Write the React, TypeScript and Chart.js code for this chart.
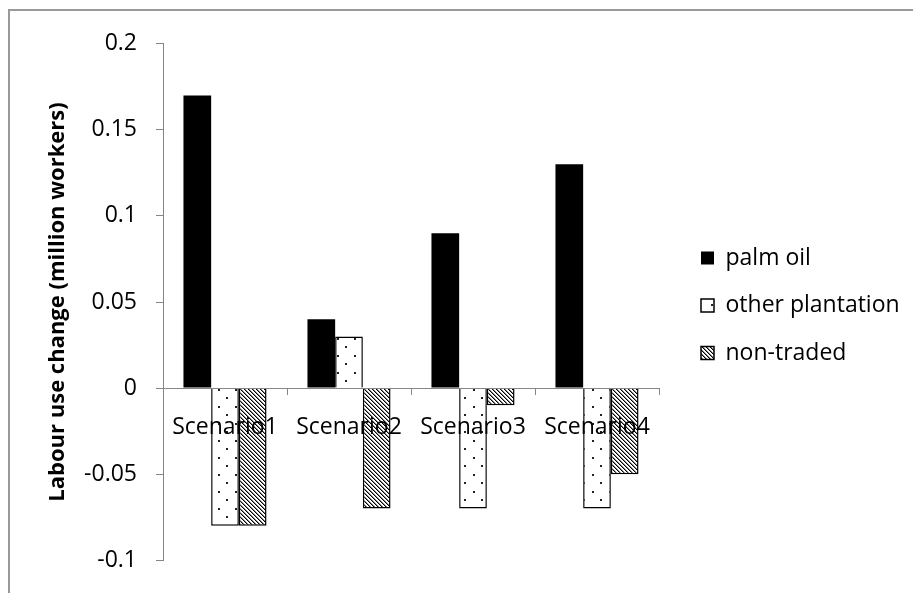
import React, { useEffect, useRef } from 'react';
import { Chart, registerables } from 'chart.js';

Chart.register(...registerables);

const categories = ['Scenario1', 'Scenario2', 'Scenario3', 'Scenario4'];
const seriesNames = ['palm oil', 'other plantation', 'non-traded'];
const palmOil = [0.17, 0.04, 0.09, 0.13];
const otherPlantation = [-0.08, 0.03, -0.07, -0.07];
const nonTraded = [-0.08, -0.07, -0.01, -0.05];
const yTickValues = [-0.1, -0.05, 0, 0.05, 0.1, 0.15, 0.2];
const yTickLabels = ['-0.1', '-0.05', '0', '0.05', '0.1', '0.15', '0.2'];
const yTitle = 'Labour use change (million workers)';

const FONT = "'Open Sans', 'DejaVu Sans', sans-serif";
const AXIS = '#868686';
const LEGEND_W = 236.5;

function makeDots(ctx: CanvasRenderingContext2D) {
  const c = document.createElement('canvas');
  c.width = 17;
  c.height = 17;
  const g = c.getContext('2d')!;
  g.fillStyle = '#ffffff';
  g.fillRect(0, 0, 17, 17);
  g.fillStyle = '#222222';
  g.fillRect(4, 4, 2, 2);
  g.fillRect(12, 12, 2, 2);
  return ctx.createPattern(c, 'repeat');
}

function makeHatch(ctx: CanvasRenderingContext2D) {
  const c = document.createElement('canvas');
  c.width = 4;
  c.height = 4;
  const g = c.getContext('2d')!;
  g.fillStyle = '#ffffff';
  g.fillRect(0, 0, 4, 4);
  for (let i = 0; i < 4; i++) {
    g.fillStyle = '#000000';
    g.fillRect(i, i, 1, 1);
    g.fillStyle = '#888888';
    g.fillRect((i + 1) % 4, i, 1, 1);
  }
  return ctx.createPattern(c, 'repeat');
}

const legendWidthPlugin = {
  id: 'legendWidth',
  beforeLayout(chart: any) {
    const lg: any = chart.legend;
    if (lg && !lg.__fixed) {
      const orig = lg.fit.bind(lg);
      lg.fit = function () {
        orig();
        lg.width = LEGEND_W;
      };
      lg.__fixed = true;
    }
  },
};

export default function App() {
  const ref = useRef<HTMLCanvasElement | null>(null);

  useEffect(() => {
    const canvas = ref.current!;
    const ctx = canvas.getContext('2d')!;
    const dots = makeDots(ctx);
    const hatch = makeHatch(ctx);
    Chart.defaults.font.family = FONT;

    const chart = new Chart(canvas, {
      type: 'bar',
      data: {
        labels: categories,
        datasets: [
          {
            label: seriesNames[0],
            data: palmOil,
            backgroundColor: '#000000',
            borderColor: '#000000',
            borderWidth: 0,
            categoryPercentage: 0.67,
            barPercentage: 1,
          },
          {
            label: seriesNames[1],
            data: otherPlantation,
            backgroundColor: dots as any,
            borderColor: '#000000',
            borderWidth: 1.5,
            categoryPercentage: 0.67,
            barPercentage: 1,
          },
          {
            label: seriesNames[2],
            data: nonTraded,
            backgroundColor: hatch as any,
            borderColor: '#000000',
            borderWidth: 1.5,
            categoryPercentage: 0.67,
            barPercentage: 1,
          },
        ],
      },
      plugins: [legendWidthPlugin as any],
      options: {
        animation: false,
        responsive: false,
        layout: { padding: { top: 29, bottom: 22, left: 0, right: 0 } },
        plugins: {
          legend: {
            position: 'right',
            align: 'center',
            labels: {
              boxWidth: 13,
              boxHeight: 13,
              padding: 24.5,
              color: '#000000',
              font: { size: 23, family: FONT },
            },
          },
          tooltip: { enabled: false },
        },
        scales: {
          x: {
            type: 'category',
            position: { y: 0 } as any,
            offset: true,
            grid: {
              display: true,
              offset: true,
              drawOnChartArea: false,
              drawTicks: true,
              tickLength: 6,
              color: AXIS,
              z: 1,
            },
            border: { display: true, color: AXIS, width: 1, z: 1 } as any,
            ticks: {
              color: '#000000',
              font: { size: 23, family: FONT },
              padding: 20,
              maxRotation: 0,
              autoSkip: false,
              z: 1,
            },
            afterFit: (s: any) => {
              s.height = 0;
            },
          },
          y: {
            type: 'linear',
            position: 'left',
            min: -0.1,
            max: 0.2,
            afterBuildTicks: (s: any) => {
              s.ticks = yTickValues.map((v) => ({ value: v }));
            },
            ticks: {
              callback: (v: any) => {
                const i = yTickValues.indexOf(Number(v));
                return i >= 0 ? yTickLabels[i] : '';
              },
              padding: 19,
              color: '#000000',
              font: { size: 23, family: FONT },
            },
            grid: {
              display: true,
              drawOnChartArea: false,
              drawTicks: true,
              tickLength: 7,
              color: AXIS,
            },
            border: { display: true, color: AXIS, width: 1 },
            title: {
              display: true,
              text: yTitle,
              color: '#000000',
              font: { size: 22, weight: 'bold', family: FONT },
              padding: { top: 34.8, bottom: 0 },
            },
            afterFit: (s: any) => {
              s.width = 153;
            },
          },
          y2: {
            type: 'linear',
            position: 'right',
            display: true,
            grid: { display: false },
            border: { display: false },
            ticks: { display: false },
            afterFit: (s: any) => {
              s.width = 17.5;
            },
          },
        },
      } as any,
    });

    return () => chart.destroy();
  }, []);

  return (
    <div
      style={{
        position: 'fixed',
        left: 8,
        top: 9,
        borderTop: '2px solid #999999',
        borderLeft: '2px solid #999999',
        width: 903,
        height: 582,
        overflow: 'hidden',
        background: '#ffffff',
      }}
    >
      <canvas ref={ref} width={903} height={582} style={{ display: 'block' }} />
    </div>
  );
}
